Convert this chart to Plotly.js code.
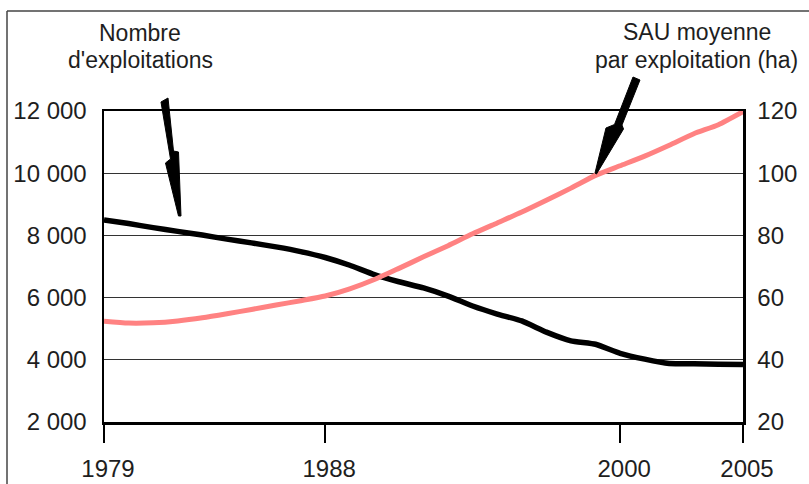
<!DOCTYPE html>
<html>
<head>
<meta charset="utf-8">
<script src="https://cdn.plot.ly/plotly-3.0.1.min.js"></script>
<style>html,body{margin:0;padding:0;background:#fff;}#chart{width:809px;height:484px;}</style>
</head>
<body>
<div id="chart"></div>
<script>
// ---- Data ----
const years = [1979,1980,1981,1982,1983,1984,1985,1986,1987,1988,1989,1990,1991,1992,1993,1994,1995,1996,1997,1998,1999,2000,2001,2002,2003,2004,2005];
const exploitations = [8500,8380,8250,8130,8010,7880,7760,7630,7480,7290,7040,6740,6510,6310,6050,5730,5470,5250,4890,4610,4500,4210,4020,3880,3870,3860,3850];
const sauMoyenne = [52.4,51.8,51.9,52.5,53.5,54.8,56.2,57.6,59.0,60.5,62.8,65.8,69.4,73.1,76.7,80.5,84.0,87.5,91.3,95.2,99.3,102.4,105.5,109.0,112.7,115.6,119.8];
const xTickVals = [1979,1988,2000,2005];
const xTickText = ["1979","1988","2000","2005"];
const yLeftVals = [2000,4000,6000,8000,10000,12000];
const yLeftText = ["2 000","4 000","6 000","8 000","10 000","12 000"];
const yRightVals = [20,40,60,80,100,120];
const yRightText = ["20","40","60","80","100","120"];
const labelLeft = ["Nombre","d'exploitations"];
const labelRight = ["SAU moyenne","par exploitation (ha)"];

// ---- Layout helpers (pixel -> paper) ----
const W = 809, H = 484, ML = 104, MR = 66, MT = 111, MB = 62;
const PW = W - ML - MR, PH = H - MT - MB;
const px = x => (x - ML) / PW;
const py = y => (H - MB - y) / PH;
function polyPath(pts){
  return pts.map((p,i)=> (i? 'L':'M') + px(p[0]).toFixed(5) + ',' + py(p[1]).toFixed(5)).join(' ') + ' Z';
}
const FONT = "Liberation Sans, Arial, sans-serif";
const TXT = "#1e1e1e";

const traces = [
  {x: years, y: exploitations, type: 'scatter', mode: 'lines', yaxis: 'y',
   line: {color: '#000000', width: 5.5, shape: 'spline', smoothing: 0.4}, hoverinfo: 'skip', showlegend: false},
  {x: years, y: sauMoyenne, type: 'scatter', mode: 'lines', yaxis: 'y2',
   line: {color: '#ff8282', width: 5, shape: 'spline', smoothing: 0.6}, hoverinfo: 'skip', showlegend: false}
];

const leftArrow = [[161,102],[168,98],[173.5,151],[178.5,152],[181,216],[178.5,216],[165.5,163],[170.5,159]];
const rightArrow = [[633,77],[640,80],[622,125],[623.5,129],[596.5,174],[595,173],[606,128],[614.5,124.5]];

const layout = {
  width: W, height: H,
  margin: {l: ML, r: MR, t: MT, b: MB, pad: 0},
  paper_bgcolor: '#ffffff', plot_bgcolor: '#ffffff',
  font: {family: FONT, size: 24, color: TXT},
  showlegend: false,
  xaxis: {
    range: [1979, 2005], tickvals: xTickVals, ticktext: xTickText,
    ticks: 'outside', ticklen: 18, tickwidth: 2.5, tickcolor: '#000',
    showline: true, linewidth: 2.5, linecolor: '#000', mirror: true,
    showgrid: false, zeroline: false, ticklabelstandoff: 6, ticklabelshift: 4,
    tickfont: {family: FONT, size: 24, color: TXT}
  },
  yaxis: {
    range: [2000, 12000], tickvals: yLeftVals, ticktext: yLeftText,
    ticks: '', showline: true, linewidth: 2.5, linecolor: '#000',
    showgrid: true, gridcolor: '#333333', gridwidth: 1.3, zeroline: false,
    ticklabelstandoff: 10,
    tickfont: {family: FONT, size: 24, color: TXT}
  },
  yaxis2: {
    range: [20, 120], tickvals: yRightVals, ticktext: yRightText,
    overlaying: 'y', side: 'right', ticks: '',
    showline: true, linewidth: 2.5, linecolor: '#000',
    showgrid: false, zeroline: false, ticklabelstandoff: 7,
    tickfont: {family: FONT, size: 24, color: TXT}
  },
  shapes: [
    {type: 'line', xref: 'paper', yref: 'paper', x0: px(7), x1: px(812), y0: py(11), y1: py(11),
     line: {color: '#444', width: 1.5}},
    {type: 'line', xref: 'paper', yref: 'paper', x0: px(7), x1: px(7), y0: py(11), y1: py(490),
     line: {color: '#444', width: 1.5}},
    {type: 'path', xref: 'paper', yref: 'paper', path: polyPath(leftArrow),
     fillcolor: '#000', line: {color: '#000', width: 1}},
    {type: 'path', xref: 'paper', yref: 'paper', path: polyPath(rightArrow),
     fillcolor: '#000', line: {color: '#000', width: 1}}
  ],
  annotations: [
    {text: labelLeft[0], xref: 'paper', yref: 'paper', x: px(140), y: py(33.5), xanchor: 'center', yanchor: 'middle', showarrow: false, font: {family: FONT, size: 23, color: TXT}},
    {text: labelLeft[1], xref: 'paper', yref: 'paper', x: px(140), y: py(60.5), xanchor: 'center', yanchor: 'middle', showarrow: false, font: {family: FONT, size: 23, color: TXT}},
    {text: labelRight[0], xref: 'paper', yref: 'paper', x: px(697), y: py(32.5), xanchor: 'center', yanchor: 'middle', showarrow: false, font: {family: FONT, size: 23, color: TXT}},
    {text: labelRight[1], xref: 'paper', yref: 'paper', x: px(696), y: py(59.5), xanchor: 'center', yanchor: 'middle', showarrow: false, font: {family: FONT, size: 23, color: TXT}}
  ]
};

Plotly.newPlot('chart', traces, layout, {staticPlot: true, displayModeBar: false});
</script>
</body>
</html>
